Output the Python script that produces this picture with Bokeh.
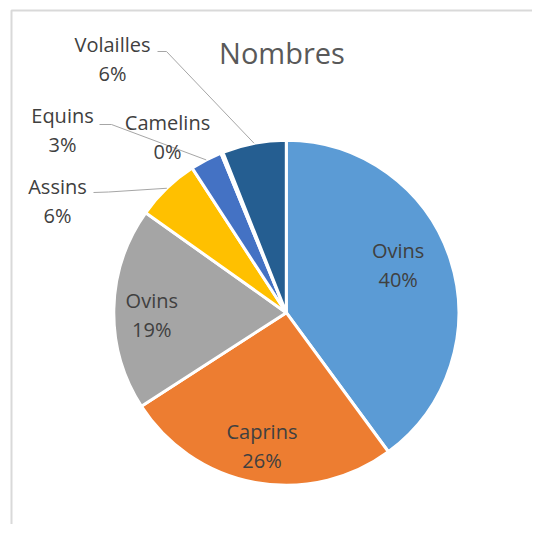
import math
from bokeh.plotting import figure
from bokeh.models import Range1d, ColumnDataSource
from bokeh.core.properties import value
from bokeh.embed import file_html
from bokeh.resources import INLINE

# ---- data ----
categories = ["Ovins", "Caprins", "Ovins", "Assins", "Equins", "Camelins", "Volailles"]
shares = [40, 26, 19, 6, 3, 0.2, 6]
pct_labels = ["40%", "26%", "19%", "6%", "3%", "0%", "6%"]
colors = ["#5B9BD5", "#ED7D31", "#A5A5A5", "#FFC000", "#4472C4", "#70AD47", "#255E91"]
title_text = "Nombres"

# ---- layout (screen pixels) ----
CX, CY, R = 285.8, 312.2, 172.5
FONT = "Open Sans"
LABEL_SIZE = 20
LINE_GAP = 28.8
CAP = 14.3
TEXT_SHIFT = 9.0      # empirical correction of the renderer's baseline
TITLE_SHIFT = 14.0
# inside labels: (radius fraction, angle shift in deg) ; outside: (label center x, y)
inside_place = {0: (0.70, -4.0), 1: (0.795, -0.2), 2: (0.78, -3.0)}
outside_place = {3: (57, 202), 4: (62, 131), 5: (167, 138), 6: (112, 60)}
# leader line start (near label) for outside labels, screen coords
leader_start = {3: [(93, 192), (108, 191.5)], 4: [(99, 124), (111, 124)], 6: [(157, 51), (166, 51)]}


def yd(ys):
    return 540 - ys


p = figure(width=532, height=524, x_range=Range1d(0, 532), y_range=Range1d(16, 540),
           output_backend="svg", toolbar_location=None, min_border=0)
p.axis.visible = False
p.grid.visible = False
p.outline_line_color = None
p.background_fill_color = "white"

# chart frame (extends past the window on right and bottom)
p.line(x=[11, 11, 560], y=[yd(560), yd(10), yd(10)], line_color="#D9D9D9", line_width=2)

total = sum(shares)
starts, ends, mids = [], [], []
acc = 0.0
for s in shares:
    a0 = acc / total * 360.0
    acc += s
    a1 = acc / total * 360.0
    starts.append(a0)
    ends.append(a1)
    mids.append((a0 + a1) / 2)

src = ColumnDataSource(dict(
    x=[CX] * len(shares), y=[yd(CY)] * len(shares),
    start=[math.radians(90 - e) for e in ends],
    end=[math.radians(90 - s) for s in starts],
    color=colors,
))
p.wedge(x="x", y="y", radius=R, start_angle="start", end_angle="end",
        fill_color="color", line_color="white", line_width=3, source=src)

# leader lines
xs, ys = [], []
for i, pts in leader_start.items():
    th = math.radians(mids[i])
    ex, ey = CX + R * math.sin(th), CY - R * math.cos(th)
    xs.append([pt[0] for pt in pts] + [ex])
    ys.append([yd(pt[1]) for pt in pts] + [yd(ey)])
p.multi_line(xs=xs, ys=ys, line_color="#A6A6A6", line_width=1)

# labels
lx, ly1, ly2, t1, t2 = [], [], [], [], []
for i in range(len(shares)):
    if i in inside_place:
        rf, sh = inside_place[i]
        th = math.radians(mids[i] + sh)
        cx, cy = CX + rf * R * math.sin(th), CY - rf * R * math.cos(th)
    else:
        cx, cy = outside_place[i]
    lx.append(cx)
    ly1.append(yd(cy - LINE_GAP / 2 + CAP / 2 - TEXT_SHIFT))
    ly2.append(yd(cy + LINE_GAP / 2 + CAP / 2 - TEXT_SHIFT))
    t1.append(categories[i])
    t2.append(pct_labels[i])

for yy, tt in ((ly1, t1), (ly2, t2)):
    p.text(x=lx, y=yy, text=tt, text_font=value(FONT), text_font_size=f"{LABEL_SIZE}px",
           text_color="#404040", text_align="center", text_baseline="alphabetic")

p.text(x=[281.5], y=[yd(65.7 - TITLE_SHIFT)], text=[title_text], text_font=value(FONT),
       text_font_size="29px", text_color="#595959", text_align="center",
       text_baseline="alphabetic")

open("out.html", "w").write(file_html(p, INLINE))
